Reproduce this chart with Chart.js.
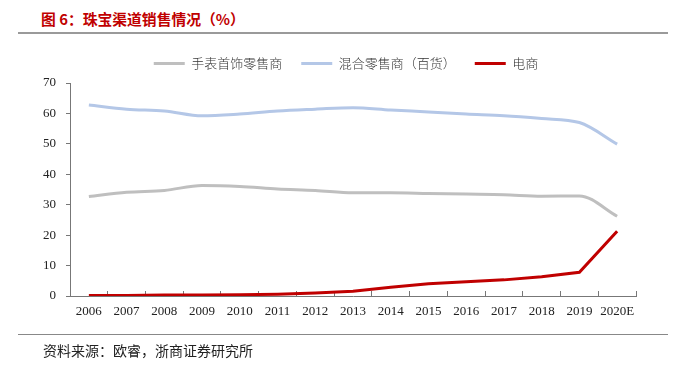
<!DOCTYPE html>
<html><head><meta charset="utf-8">
<script src="https://cdn.jsdelivr.net/npm/chart.js@4/dist/chart.umd.min.js"></script>
<style>
html,body{margin:0;padding:0;background:#fff;}
#wrap{position:relative;width:683px;height:372px;overflow:hidden;}
#title{position:absolute;left:41px;top:8px;font:bold 14.8px "Noto Sans CJK SC",sans-serif;color:#C00000;white-space:nowrap;}
#rule1{position:absolute;left:18px;top:32px;width:650px;height:2px;background:#9a9a9a;}
#rule2{position:absolute;left:18px;top:334px;width:650px;height:1px;background:#888;}
#src{position:absolute;left:43px;top:340px;font:14px "Noto Sans CJK SC",sans-serif;color:#222;white-space:nowrap;}
canvas{position:absolute;left:0;top:0;}
</style></head>
<body><div id="wrap">
<div id="title">图 6：珠宝渠道销售情况（%）</div>
<div id="rule1"></div>
<canvas id="c" width="683" height="372"></canvas>
<div id="rule2"></div>
<div id="src">资料来源：欧睿，浙商证券研究所</div>
</div>
<script>
const categories = ["2006","2007","2008","2009","2010","2011","2012","2013","2014","2015","2016","2017","2018","2019","2020E"];
const seriesNames = ["手表首饰零售商","混合零售商（百货）","电商"];
const watchJewelry = [32.7,34.1,34.7,36.3,36.0,35.2,34.7,33.9,33.9,33.7,33.5,33.3,32.8,32.9,26.2];
const mixedRetail = [62.8,61.4,60.8,59.2,59.8,60.8,61.4,61.9,61.1,60.5,59.8,59.2,58.3,57.0,49.9];
const ecommerce = [0.2,0.2,0.3,0.3,0.4,0.6,1.0,1.6,2.9,4.0,4.7,5.3,6.3,7.8,21.3];
const yTicks = [0,10,20,30,40,50,60,70];

const colors = ["#BFBFBF","#B4C7E7","#C00000"];

const legendShift = {
  id: 'legendShift',
  afterLayout(chart) {
    const l = chart.legend;
    if (!l) return;
    l.left += 13; l.right += 13;
    l.top -= 3; l.bottom -= 3;
  }
};

new Chart(document.getElementById('c'), {
  type: 'line',
  data: {
    labels: categories,
    datasets: [
      {label: seriesNames[0], data: watchJewelry, borderColor: colors[0], backgroundColor: colors[0], borderWidth: 3, tension: 0.4, cubicInterpolationMode: 'monotone', pointRadius: 0},
      {label: seriesNames[1], data: mixedRetail, borderColor: colors[1], backgroundColor: colors[1], borderWidth: 3, tension: 0.4, cubicInterpolationMode: 'monotone', pointRadius: 0},
      {label: seriesNames[2], data: ecommerce, borderColor: colors[2], backgroundColor: colors[2], borderWidth: 3, tension: 0, pointRadius: 0}
    ]
  },
  plugins: [legendShift],
  options: {
    responsive: false,
    animation: false,
    layout: {padding: {left: 30, right: 47, top: 41, bottom: 42}},
    plugins: {
      tooltip: {enabled: false},
      legend: {
        display: true,
        position: 'top',
        labels: {
          boxWidth: 31, boxHeight: 3, padding: 19,
          color: '#333',
          font: {family: '"Noto Sans CJK SC", sans-serif', size: 13, weight: 300},
          generateLabels(chart) {
            return chart.data.datasets.map((d, i) => ({
              text: d.label, fillStyle: d.borderColor, strokeStyle: d.borderColor,
              lineWidth: 0, hidden: false, datasetIndex: i, fontColor: '#333'
            }));
          }
        }
      }
    },
    scales: {
      x: {
        type: 'category',
        offset: true,
        grid: {display: true, drawOnChartArea: false, offset: true, tickLength: -5, color: '#777'},
        border: {display: true, color: '#777', width: 1},
        ticks: {color: '#222', padding: 13, maxRotation: 0, autoSkip: false, font: {family: '"Liberation Serif", serif', size: 13}},
        afterFit(s) { s.height = 34; }
      },
      y: {
        min: 0, max: 70,
        afterBuildTicks(s) { s.ticks = yTicks.map(v => ({value: v})); },
        grid: {display: true, drawOnChartArea: false, tickLength: 4, color: '#777'},
        border: {display: true, color: '#777', width: 1},
        ticks: {color: '#222', padding: 10, font: {family: '"Liberation Serif", serif', size: 13}},
        afterFit(s) { s.width = 40; }
      }
    }
  }
});
</script>
</body></html>
